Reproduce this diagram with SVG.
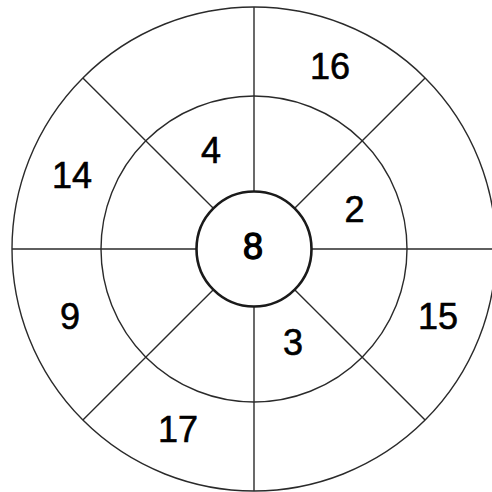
<svg xmlns="http://www.w3.org/2000/svg" width="492" height="492" viewBox="0 0 492 492">
<style>
.ring{fill:none;stroke:#2a2a2a;stroke-width:1.4}
.hub{fill:#fff;stroke:#1a1a1a;stroke-width:2.6}
.sp{stroke:#2a2a2a;stroke-width:1.4}
.lb{font-family:"Liberation Sans",Arial,sans-serif;font-size:36px;fill:#000;text-anchor:middle;stroke:#000;stroke-width:0.6}
.hb{stroke-width:1.3}
</style>
<rect width="492" height="492" fill="#fff"/>
<g id="outer-ring"><circle class="ring" cx="254" cy="249" r="242"/></g>
<g id="middle-ring"><circle class="ring" cx="254" cy="249" r="153"/></g>
<g id="connectors">
<line class="sp" x1="254" y1="191.5" x2="254" y2="7"/>
<line class="sp" x1="254" y1="306.5" x2="254" y2="491"/>
<line class="sp" x1="196.5" y1="249" x2="12" y2="249"/>
<line class="sp" x1="311.5" y1="249" x2="496" y2="249"/>
<line class="sp" x1="213.3" y1="208.3" x2="82.9" y2="77.9"/>
<line class="sp" x1="294.7" y1="208.3" x2="425.1" y2="77.9"/>
<line class="sp" x1="213.3" y1="289.7" x2="82.9" y2="420.1"/>
<line class="sp" x1="294.7" y1="289.7" x2="425.1" y2="420.1"/>
</g>
<g id="hub"><circle class="hub" cx="254" cy="249" r="57.5"/><text class="lb hb" x="253" y="259">8</text></g>
<g id="n16"><text class="lb" x="330" y="79">16</text></g>
<g id="n14"><text class="lb" x="72" y="188">14</text></g>
<g id="n4"><text class="lb" x="211" y="163">4</text></g>
<g id="n2"><text class="lb" x="354.5" y="222">2</text></g>
<g id="n9"><text class="lb" x="70" y="329">9</text></g>
<g id="n15"><text class="lb" x="438" y="329">15</text></g>
<g id="n3"><text class="lb" x="293" y="355">3</text></g>
<g id="n17"><text class="lb" x="178" y="442">17</text></g>
</svg>
